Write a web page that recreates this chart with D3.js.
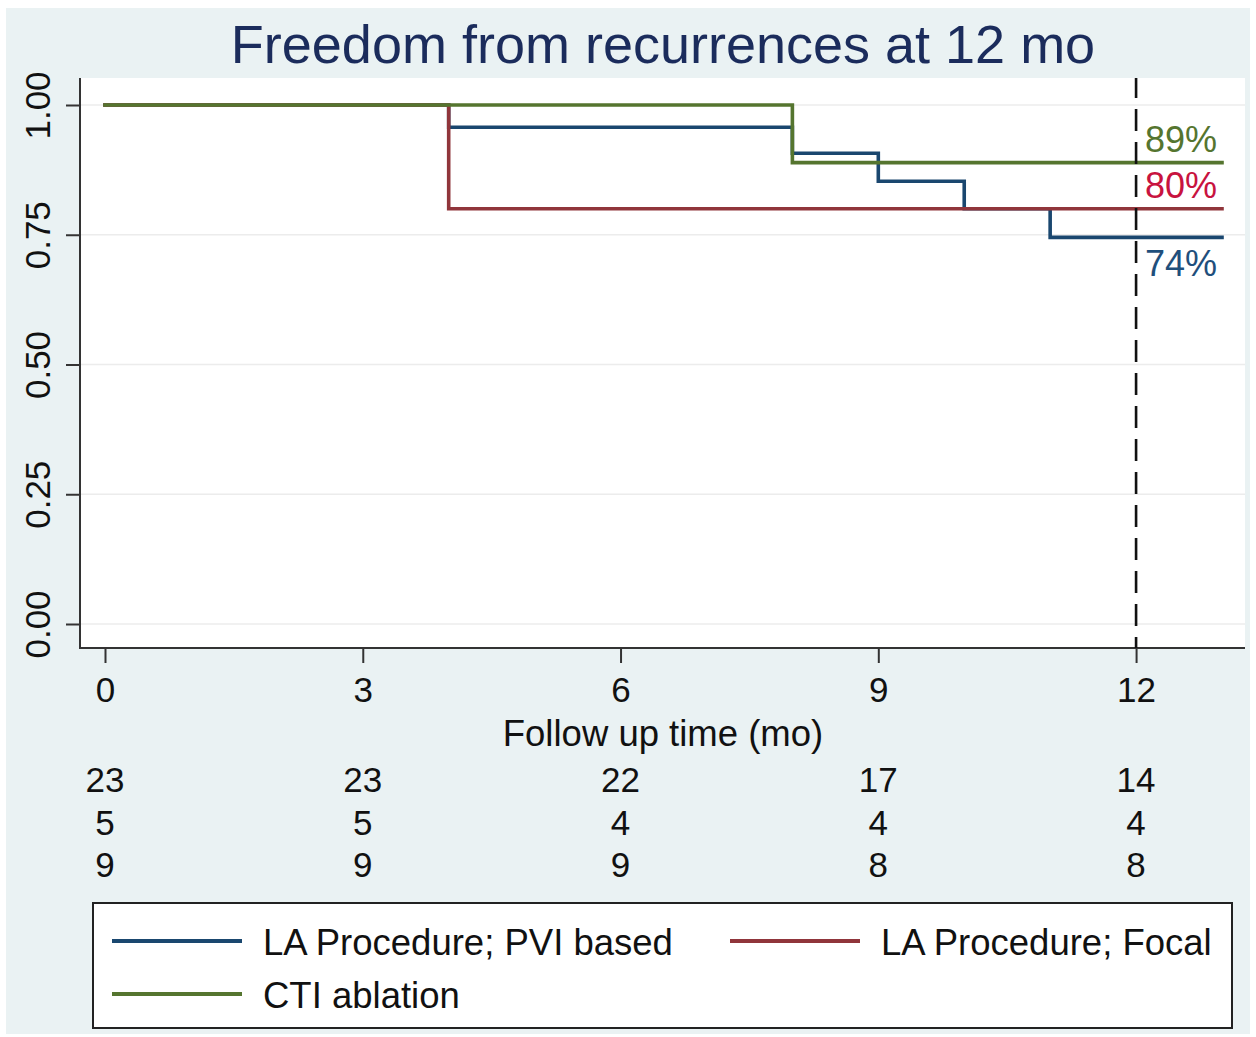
<!DOCTYPE html>
<html>
<head>
<meta charset="utf-8">
<script src="https://cdn.jsdelivr.net/npm/d3@7"></script>
<style>
  html, body { margin: 0; padding: 0; background: #ffffff; }
  svg { display: block; }
  text { font-family: "Liberation Sans", Arial, Helvetica, sans-serif; }
</style>
</head>
<body>
<svg id="chart" width="1256" height="1037"></svg>
<script>
// ---------- data ----------
const titleText = "Freedom from recurrences at 12 mo";
const xAxisTitle = "Follow up time (mo)";
const xTicks = [0, 3, 6, 9, 12];
const yTicks = [0, 0.25, 0.5, 0.75, 1];
const yTickLabels = ["0.00", "0.25", "0.50", "0.75", "1.00"];

const seriesNames = ["LA Procedure; PVI based", "LA Procedure; Focal", "CTI ablation"];

const pviTimes = [0, 4, 8, 9, 10, 11, 13];
const pviSurv  = [1, 0.957, 0.907, 0.853, 0.800, 0.745, 0.745];
const focalTimes = [0, 4, 13];
const focalSurv  = [1, 0.800, 0.800];
const ctiTimes = [0, 8, 13];
const ctiSurv  = [1, 0.889, 0.889];

const atRiskPVI   = [23, 23, 22, 17, 14];
const atRiskFocal = [5, 5, 4, 4, 4];
const atRiskCTI   = [9, 9, 9, 8, 8];

const endLabels = ["74%", "80%", "89%"];
const markerTime = 12;

// ---------- styles ----------
const colors = ["#1a476f", "#90353b", "#55752f"];
const labelColors = ["#1f4f7c", "#c8133f", "#55752f"];
const outerBg = "#eaf2f3";

const svg = d3.select("#chart");

// outer region
svg.append("rect").attr("x", 6).attr("y", 8).attr("width", 1244).attr("height", 1026).attr("fill", outerBg);

// plot region
const plot = { left: 80, right: 1245, top: 78, bottom: 648 };
svg.append("rect").attr("x", plot.left).attr("y", plot.top)
  .attr("width", plot.right - plot.left).attr("height", plot.bottom - plot.top)
  .attr("fill", "#ffffff");

const x = d3.scaleLinear().domain([0, 13]).range([105, 1222]);
const y = d3.scaleLinear().domain([0, 1]).range([624, 105]);

// gridlines
svg.append("g").selectAll("line").data(yTicks).join("line")
  .attr("x1", plot.left).attr("x2", plot.right)
  .attr("y1", d => y(d)).attr("y2", d => y(d))
  .attr("stroke", "#ececec").attr("stroke-width", 1.5);

// title
svg.append("text").attr("x", 663).attr("y", 63).attr("text-anchor", "middle")
  .attr("font-size", 54).attr("fill", "#1b2c5c").text(titleText);

// y axis
const yAxis = d3.axisLeft(y).tickValues(yTicks).tickFormat((d, i) => yTickLabels[i])
  .tickSize(14).tickSizeOuter(0);
const gy = svg.append("g").attr("transform", `translate(${plot.left},0)`).call(yAxis);
gy.select(".domain").remove();
gy.selectAll(".tick line").attr("stroke", "#333").attr("stroke-width", 2);
gy.selectAll(".tick text").remove();
gy.selectAll(".tick").append("text")
  .attr("transform", "translate(-30,0) rotate(-90)")
  .attr("text-anchor", "middle").attr("dy", 0)
  .attr("font-size", 35).attr("fill", "#111")
  .text((d, i) => yTickLabels[i]);
svg.append("line").attr("x1", plot.left).attr("x2", plot.left)
  .attr("y1", plot.top).attr("y2", plot.bottom + 1).attr("stroke", "#333").attr("stroke-width", 2);

// x axis
const xAxis = d3.axisBottom(x).tickValues(xTicks).tickFormat(d3.format("d"))
  .tickSize(15).tickSizeOuter(0).tickPadding(14);
const gx = svg.append("g").attr("transform", `translate(0,${plot.bottom})`).call(xAxis);
gx.select(".domain").remove();
gx.selectAll(".tick line").attr("stroke", "#333").attr("stroke-width", 2);
gx.selectAll(".tick text").attr("font-size", 35).attr("fill", "#111")
  .attr("font-family", '"Liberation Sans", Arial, sans-serif').attr("dy", "0.71em");
svg.append("line").attr("x1", plot.left - 1).attr("x2", plot.right)
  .attr("y1", plot.bottom).attr("y2", plot.bottom).attr("stroke", "#333").attr("stroke-width", 2);

// x axis title
svg.append("text").attr("x", 663).attr("y", 746).attr("text-anchor", "middle")
  .attr("font-size", 36.5).attr("fill", "#111").text(xAxisTitle);

// KM curves
const line = d3.line().x(d => x(d[0])).y(d => y(d[1])).curve(d3.curveStepAfter);
const series = [
  d3.zip(pviTimes, pviSurv),
  d3.zip(focalTimes, focalSurv),
  d3.zip(ctiTimes, ctiSurv)
];
svg.append("g").selectAll("path").data(series).join("path")
  .attr("d", line).attr("fill", "none")
  .attr("stroke", (d, i) => colors[i]).attr("stroke-width", 3.6)
  .attr("stroke-linejoin", "miter").attr("stroke-linecap", "square");

// vertical dashed line at 12 mo
svg.append("line").attr("x1", x(markerTime)).attr("x2", x(markerTime))
  .attr("y1", plot.top).attr("y2", plot.bottom)
  .attr("stroke", "#111").attr("stroke-width", 2.6).attr("stroke-dasharray", "22,11")
  .attr("stroke-dashoffset", 2);

// end labels
const endVals = [pviSurv[pviSurv.length - 1], focalSurv[focalSurv.length - 1], ctiSurv[ctiSurv.length - 1]];
const endOffsets = [39, -11, -11];
svg.append("g").selectAll("text").data(endLabels).join("text")
  .attr("x", x(markerTime) + 9)
  .attr("y", (d, i) => y(endVals[i]) + endOffsets[i])
  .attr("font-size", 36).attr("fill", (d, i) => labelColors[i]).text(d => d);

// number at risk table
const riskRows = [atRiskPVI, atRiskFocal, atRiskCTI];
const riskBaselines = [792, 835, 877];
riskRows.forEach((row, r) => {
  svg.append("g").selectAll("text").data(row).join("text")
    .attr("x", (d, i) => x(xTicks[i])).attr("y", riskBaselines[r])
    .attr("text-anchor", "middle").attr("font-size", 35).attr("fill", "#111")
    .text(d => d);
});

// legend
svg.append("rect").attr("x", 93).attr("y", 903).attr("width", 1139).attr("height", 125)
  .attr("fill", "#ffffff").attr("stroke", "#222").attr("stroke-width", 2);
const legendItems = [
  { x: 112, y: 941 },
  { x: 730, y: 941 },
  { x: 112, y: 994 }
];
const lg = svg.append("g").selectAll("g").data(seriesNames).join("g")
  .attr("transform", (d, i) => `translate(${legendItems[i].x},${legendItems[i].y})`);
lg.append("line").attr("x1", 0).attr("x2", 130).attr("y1", 0).attr("y2", 0)
  .attr("stroke", (d, i) => colors[i]).attr("stroke-width", 3.8);
lg.append("text").attr("x", 151).attr("y", 14).attr("font-size", 36.5).attr("fill", "#111")
  .text(d => d);
</script>
</body>
</html>
